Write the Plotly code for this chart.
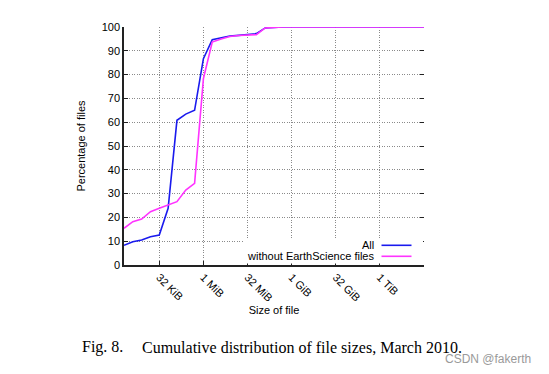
import plotly.graph_objects as go

# File size as power-of-two exponent (2^11 B = 2 KiB ... 2^45 B = 32 TiB)
size_exp = [11, 12, 13, 14, 15, 16, 17, 18, 19, 20, 21, 22, 23, 24, 25, 26, 27, 28, 29, 30, 35, 40, 45]
pct_all = [8.3, 9.8, 10.5, 11.9, 12.6, 23.8, 60.8, 63.4, 65.0, 86.7, 94.7, 95.4, 96.2, 96.5, 96.8, 97.2, 99.6, 99.9, 100, 100, 100, 100, 100]
pct_no_es = [15.4, 18.2, 19.3, 22.4, 23.8, 25.2, 26.6, 31.5, 34.3, 78.3, 93.7, 95.0, 96.0, 96.4, 96.7, 96.8, 99.6, 99.9, 100, 100, 100, 100, 100]

tick_exp = [15, 20, 25, 30, 35, 40]
tick_labels = ["32 KiB", "1 MiB", "32 MiB", "1 GiB", "32 GiB", "1 TiB"]
y_ticks = list(range(0, 101, 10))

series_names = ["All", "without EarthScience files"]
series_colors = ["#1a1aee", "#ff33ff"]

OFF = 8  # page body margin
W, H = 549 - 2 * OFF, 374 - 2 * OFF
# plot area in screen pixels
L, R, T, B = 124, 424, 27, 265
l, r, t, b = L - OFF, R - OFF, T - OFF, B - OFF

def px(xs):
    return (xs - L) / (R - L)

def py(ys):
    return (B - ys) / (B - T)

fig = go.Figure()
fig.add_trace(go.Scatter(x=size_exp, y=pct_all, mode="lines", name=series_names[0],
                         line=dict(color=series_colors[0], width=1.6)))
fig.add_trace(go.Scatter(x=size_exp, y=pct_no_es, mode="lines", name=series_names[1],
                         line=dict(color=series_colors[1], width=1.6)))

font = dict(family="Liberation Sans, Arial, sans-serif", size=11, color="#000")
grid_dash = "1px,1.5px"

fig.update_layout(
    width=W, height=H,
    margin=dict(l=l, r=W - r, t=t, b=H - b, pad=0, autoexpand=False),
    paper_bgcolor="white", plot_bgcolor="white",
    showlegend=False,
    font=font,
    xaxis=dict(range=[11, 45], tickvals=tick_exp, ticktext=tick_labels, tickangle=45,
               ticks="inside", ticklen=4, tickcolor="#222", tickwidth=1.2,
               showline=True, linecolor="#222", linewidth=1.5,
               showgrid=True, gridcolor="#8a8a8a", griddash=grid_dash, gridwidth=1,
               zeroline=False, tickfont=font, automargin=False,
               title=dict(text="Size of file", font=font, standoff=2)),
    yaxis=dict(range=[0, 100], tickvals=y_ticks,
               ticks="inside", ticklen=4, tickcolor="#222", tickwidth=1.2,
               showline=True, linecolor="#222", linewidth=1.5,
               showgrid=True, gridcolor="#8a8a8a", griddash=grid_dash, gridwidth=1,
               zeroline=False, tickfont=font, automargin=False,
               title=dict(text="Percentage of files", font=font, standoff=14)),
    yaxis2=dict(range=[0, 100], tickvals=y_ticks, overlaying="y", side="right",
                ticks="inside", ticklen=4, tickcolor="#222", tickwidth=1.2,
                showline=False, showgrid=False, showticklabels=False, zeroline=False,
                automargin=False),
)

# invisible trace so the mirrored right axis is rendered
fig.add_trace(go.Scatter(x=[11], y=[0], yaxis="y2", mode="markers",
                         marker=dict(opacity=0), hoverinfo="skip", showlegend=False))

# legend box (opaque, no border) with sample lines on the right
fig.add_shape(type="rect", xref="paper", yref="paper",
              x0=px(244), x1=px(423), y0=py(263.5), y1=py(238.5),
              fillcolor="white", line=dict(width=0), layer="above")
leg_y = [245.3, 256.3]
for name, col, yy in zip(series_names, series_colors, leg_y):
    fig.add_shape(type="line", xref="paper", yref="paper",
                  x0=px(381.5), x1=px(411.5), y0=py(yy), y1=py(yy),
                  line=dict(color=col, width=1.6), layer="above")
    fig.add_annotation(text=name, xref="paper", yref="paper",
                       x=px(375.5), y=py(yy), xanchor="right", yanchor="middle",
                       showarrow=False, font=font)

# caption and watermark
serif = dict(family="Liberation Serif, Times New Roman, serif", size=16, color="#000")
fig.add_annotation(text="Fig. 8.", xref="paper", yref="paper",
                   x=px(80), y=py(347), xanchor="left", yanchor="middle",
                   showarrow=False, font=serif)
fig.add_annotation(text="Cumulative distribution of file sizes, March 2010.", xref="paper", yref="paper",
                   x=px(140), y=py(347), xanchor="left", yanchor="middle",
                   showarrow=False, font=serif)
fig.add_annotation(text="CSDN @fakerth", xref="paper", yref="paper",
                   x=px(533), y=py(359), xanchor="right", yanchor="middle", showarrow=False,
                   font=dict(family="Liberation Sans, Arial, sans-serif", size=12, color="#9a9a9a"))

fig.write_html("out.html")
